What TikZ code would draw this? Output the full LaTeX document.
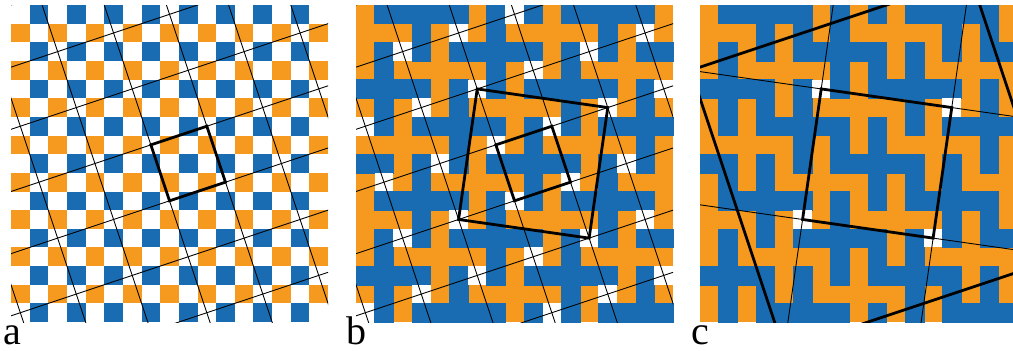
\documentclass[tikz,border=0pt]{standalone}
\usepackage{fontspec}
\setmainfont{Liberation Serif}
\definecolor{bl}{RGB}{25,108,178}
\definecolor{orr}{RGB}{245,154,30}
\tikzset{
  thinln/.style={line width=0.9pt,black},
  thickln/.style={line width=2.8pt,black,line join=miter},
  lbl/.style={font=\fontsize{40}{40}\selectfont,anchor=base west,inner sep=0pt}
}
% #1 x, #2 y, #3 mode (0 = panel b, 1 = panel c); sets \ccode: 0 orange, 1 blue, 2 white
\newcommand\mycellcode[3]{%
  \pgfmathtruncatemacro\myk{mod(#1+3*#2+7,10)}%
  \ifcase\myk \def\mydx{0}\def\mydy{0}\or\def\mydx{1}\def\mydy{0}\or\def\mydx{2}\def\mydy{0}\or
    \def\mydx{0}\def\mydy{1}\or\def\mydx{0}\def\mydy{-2}\or\def\mydx{-2}\def\mydy{-1}\or
    \def\mydx{0}\def\mydy{2}\or\def\mydx{0}\def\mydy{-1}\or\def\mydx{-2}\def\mydy{0}\or
    \def\mydx{-1}\def\mydy{0}\fi
  \pgfmathtruncatemacro\myv{mod(abs(2*(#1-(\mydx)-9)+(#2-(\mydy)-8)),10)}%
  \ifnum\myv=0 \def\ccode{1}\else\def\ccode{0}\fi
  \ifnum\myk=5
    \ifnum#3=0 \def\ccode{2}\else
      \pgfmathtruncatemacro\myw{mod(7*(#1-6)+(#2-4)+500,50)}%
      \ifnum\myw=0 \def\ccode{2}\fi
    \fi
  \fi
}
\begin{document}
\begin{tikzpicture}[x=1pt,y=-1pt]
\useasboundingbox (0,0) rectangle (1013,351);
\fill[white] (0,0) rectangle (1013,351);

% ---------------- panel a
\begin{scope}[shift={(11pt,-5pt)},x=18.65pt,y=-18.65pt]
  \foreach \i in {0,...,16}{\foreach \j in {0,...,16}{
    \pgfmathtruncatemacro\xo{mod(\i,2)}\pgfmathtruncatemacro\yo{mod(\j,2)}
    \ifnum\xo=1 \ifnum\yo=0 \fill[bl] (\i,\j) rectangle ++(1,1); \fi\fi
    \ifnum\xo=0 \ifnum\yo=1 \fill[orr] (\i,\j) rectangle ++(1,1); \fi\fi
  }}
  \begin{scope}
    \clip (0,0) rectangle (17,17);
    \foreach \k in {-3,...,3}{\draw[thinln] ({7.5+\k-15},{7.5+3*\k+5}) -- ({7.5+\k+15},{7.5+3*\k-5});}
    \foreach \k in {-4,...,4}{\draw[thinln] ({7.5+3*\k-5},{7.5-\k-15}) -- ({7.5+3*\k+5},{7.5-\k+15});}
  \end{scope}
  \draw[thickln] (7.5,7.5) -- (10.5,6.5) -- (11.5,9.5) -- (8.5,10.5) -- cycle;
\end{scope}

% ---------------- panel b
\begin{scope}[shift={(356pt,-5pt)},x=18.65pt,y=-18.65pt]
  \fill[orr] (0,0) rectangle (17,17);
  \foreach \i in {0,...,16}{\foreach \j in {0,...,16}{
    \mycellcode{\i}{\j}{0}%
    \ifnum\ccode=1 \fill[bl,draw=bl,line width=0.4pt] (\i,\j) rectangle ++(1,1); \fi
    \ifnum\ccode=2 \fill[white] (\i,\j) rectangle ++(1,1); \fi
  }}
  \begin{scope}
    \clip (0,0) rectangle (17,17);
    \foreach \k in {-3,...,3}{\draw[thinln] ({7.5+\k-15},{7.5+3*\k+5}) -- ({7.5+\k+15},{7.5+3*\k-5});}
    \foreach \k in {-4,...,4}{\draw[thinln] ({7.5+3*\k-5},{7.5-\k-15}) -- ({7.5+3*\k+5},{7.5-\k+15});}
  \end{scope}
  \draw[thickln] (7.5,7.5) -- (10.5,6.5) -- (11.5,9.5) -- (8.5,10.5) -- cycle;
  \draw[thickln] (6.5,4.5) -- (13.5,5.5) -- (12.5,12.5) -- (5.5,11.5) -- cycle;
\end{scope}

% ---------------- panel c
\begin{scope}[shift={(700pt,-5pt)},x=18.65pt,y=-18.65pt]
  \fill[orr] (0,0) rectangle (17,17);
  \foreach \i in {0,...,16}{\foreach \j in {0,...,16}{
    \mycellcode{\i}{\j}{1}%
    \ifnum\ccode=1 \fill[bl,draw=bl,line width=0.4pt] (\i,\j) rectangle ++(1,1); \fi
    \ifnum\ccode=2 \fill[white] (\i,\j) rectangle ++(1,1); \fi
  }}
  \begin{scope}
    \clip (0,0) rectangle (17,17);
    \draw[thinln] (-14.5,1.5) -- (27.5,7.5);
    \draw[thinln] (-15.5,8.5) -- (26.5,14.5);
    \draw[thinln] (9.5,-16.5) -- (3.5,25.5);
    \draw[thinln] (16.5,-15.5) -- (10.5,26.5);
    \draw[thickln] (-0.5,3.5) -- (14.5,-1.5) -- (19.5,13.5) -- (4.5,18.5) -- cycle;
  \end{scope}
  \draw[thickln] (6.5,4.5) -- (13.5,5.5) -- (12.5,12.5) -- (5.5,11.5) -- cycle;
\end{scope}

\node[lbl] (la) at (3,344) {a};
\node[lbl] (lb) at (346,344) {b};
\node[lbl] (lc) at (691,344) {c};
\end{tikzpicture}
\end{document}
